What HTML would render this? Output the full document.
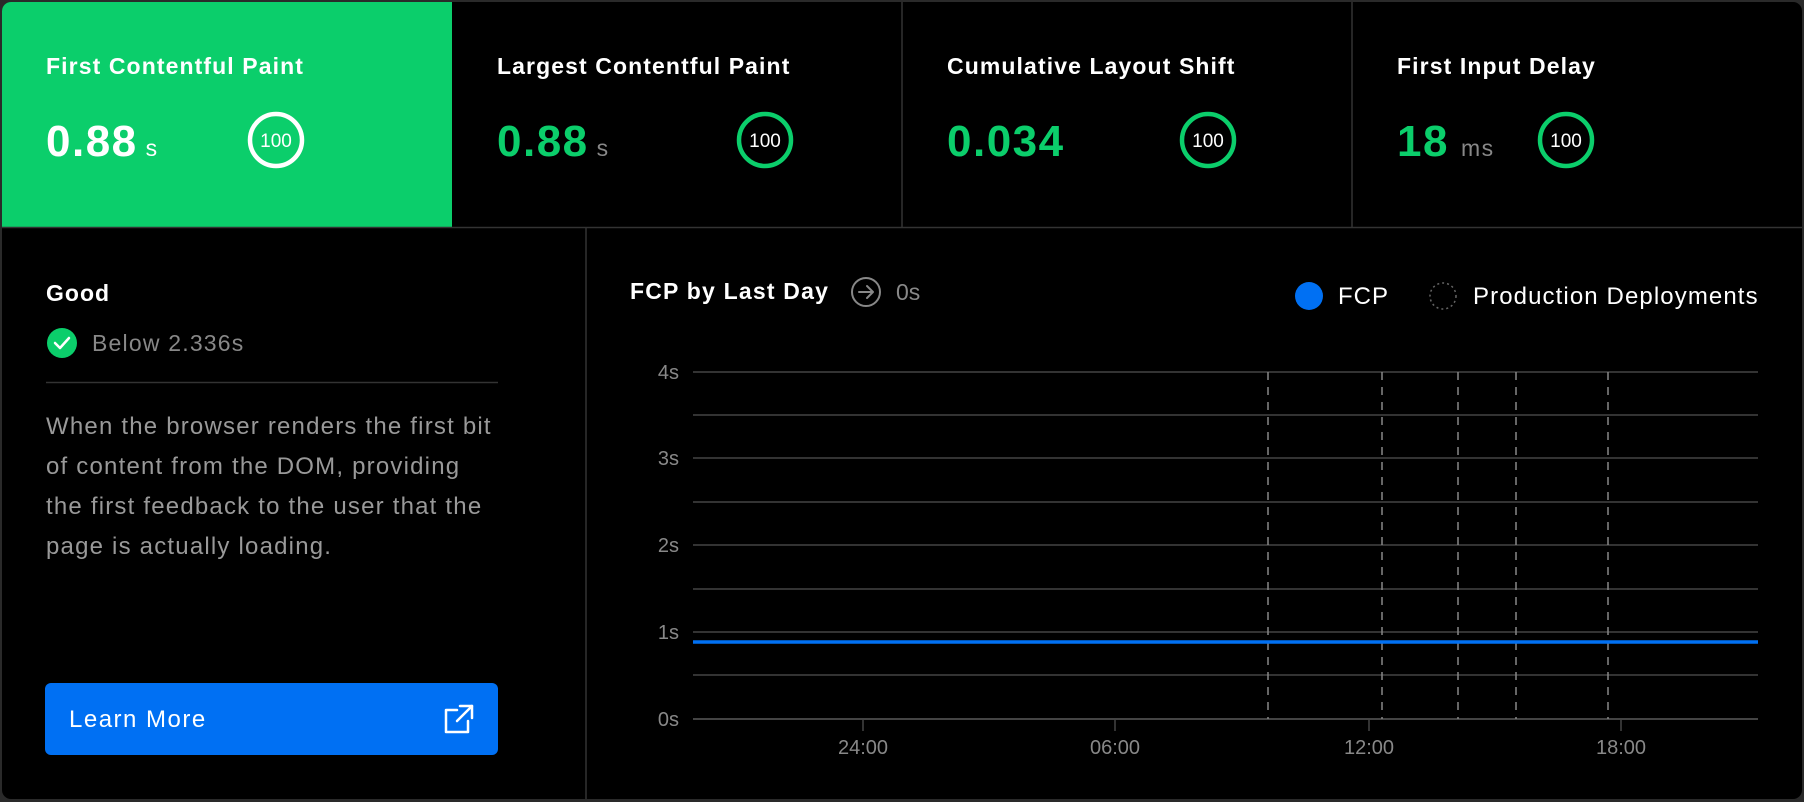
<!DOCTYPE html>
<html><head><meta charset="utf-8"><style>
html,body{margin:0;padding:0;background:#000;}
svg{display:block;font-family:"Liberation Sans",sans-serif;}
</style></head><body>
<svg width="1804" height="802" viewBox="0 0 1804 802" xmlns="http://www.w3.org/2000/svg">
<rect x="0" y="0" width="1804" height="802" fill="#2a2a2a"/>
<rect x="2" y="2" width="1800" height="797" rx="9" fill="#000"/>
<path d="M2 227 V11 A9 9 0 0 1 11 2 H452 V227 Z" fill="#0bce6b"/>
<g stroke="#333" stroke-width="1.5">
<line x1="902" y1="2" x2="902" y2="227"/>
<line x1="1352" y1="2" x2="1352" y2="227"/>
<line x1="2" y1="227.5" x2="1802" y2="227.5"/>
<line x1="586" y1="227" x2="586" y2="799"/>
</g>
<g font-size="23" font-weight="bold" fill="#fff" letter-spacing="1.1">
<text x="46" y="74">First Contentful Paint</text>
<text x="497" y="74">Largest Contentful Paint</text>
<text x="947" y="74">Cumulative Layout Shift</text>
<text x="1397" y="74">First Input Delay</text>
</g>
<g font-size="44" font-weight="bold" letter-spacing="1.5">
<text x="46" y="156" fill="#fff">0.88<tspan font-size="23" font-weight="normal" dx="8">s</tspan></text>
<text x="497" y="156" fill="#0bce6b">0.88<tspan font-size="23" font-weight="normal" fill="#888" dx="8">s</tspan></text>
<text x="947" y="156" fill="#0bce6b">0.034</text>
<text x="1397" y="156" fill="#0bce6b">18<tspan font-size="23" font-weight="normal" fill="#888" dx="12">ms</tspan></text>
</g>
<g fill="none" stroke-width="4.5">
<circle cx="276" cy="140" r="26" stroke="#fff"/>
<circle cx="765" cy="140" r="26" stroke="#0bce6b"/>
<circle cx="1208" cy="140" r="26" stroke="#0bce6b"/>
<circle cx="1566" cy="140" r="26" stroke="#0bce6b"/>
</g>
<g font-size="19" fill="#fff" text-anchor="middle">
<text x="276" y="147">100</text><text x="765" y="147">100</text>
<text x="1208" y="147">100</text><text x="1566" y="147">100</text>
</g>
<!-- left panel -->
<text x="46" y="301" font-size="23" font-weight="bold" fill="#fff" letter-spacing="1">Good</text>
<circle cx="62" cy="343" r="15" fill="#0bce6b"/>
<path d="M55 343 L60 348 L69 338" fill="none" stroke="#fff" stroke-width="2.5" stroke-linecap="round" stroke-linejoin="round"/>
<text x="92" y="351" font-size="23" fill="#888" letter-spacing="1.2">Below 2.336s</text>
<line x1="46" y1="382.5" x2="498" y2="382.5" stroke="#333" stroke-width="1.5"/>
<g font-size="24" fill="#999" letter-spacing="1.2">
<text x="46" y="434">When the browser renders the first bit</text>
<text x="46" y="474">of content from the DOM, providing</text>
<text x="46" y="514">the first feedback to the user that the</text>
<text x="46" y="554">page is actually loading.</text>
</g>
<rect x="45" y="683" width="453" height="72" rx="6" fill="#0070f3"/>
<text x="69" y="727" font-size="24" fill="#fff" letter-spacing="1.5">Learn More</text>
<g fill="none" stroke="#fff" stroke-width="2.5" stroke-linecap="round" stroke-linejoin="round">
<path d="M457 710 H446 V732 H468 V721"/><path d="M460 706 H472 V718"/><path d="M472 706 L457 721"/>
</g>
<!-- chart header -->
<text x="630" y="299" font-size="23" font-weight="bold" fill="#fff" letter-spacing="1.2">FCP by Last Day</text>
<circle cx="866" cy="292" r="14" fill="none" stroke="#888" stroke-width="2"/>
<path d="M859 292 H873 M867 286 L873 292 L867 298" fill="none" stroke="#888" stroke-width="2" stroke-linecap="round" stroke-linejoin="round"/>
<text x="896" y="300" font-size="23" fill="#888">0s</text>
<circle cx="1309" cy="296" r="14" fill="#0070f3"/>
<text x="1338" y="304" font-size="24" fill="#fff" letter-spacing="1">FCP</text>
<circle cx="1443" cy="296" r="13" fill="none" stroke="#666" stroke-width="1.5" stroke-dasharray="2 3"/>
<text x="1473" y="304" font-size="24" fill="#fff" letter-spacing="1.1">Production Deployments</text>
<!-- grid -->
<g stroke="#333" stroke-width="2">
<line x1="693" y1="372" x2="1758" y2="372"/><line x1="693" y1="415" x2="1758" y2="415"/>
<line x1="693" y1="458" x2="1758" y2="458"/><line x1="693" y1="502" x2="1758" y2="502"/>
<line x1="693" y1="545" x2="1758" y2="545"/><line x1="693" y1="589" x2="1758" y2="589"/>
<line x1="693" y1="632" x2="1758" y2="632"/><line x1="693" y1="675" x2="1758" y2="675"/>
</g>
<line x1="693" y1="719" x2="1758" y2="719" stroke="#444" stroke-width="2"/>
<g stroke="#444" stroke-width="1.5">
<line x1="863" y1="719" x2="863" y2="731"/><line x1="1115" y1="719" x2="1115" y2="731"/>
<line x1="1369" y1="719" x2="1369" y2="731"/><line x1="1621" y1="719" x2="1621" y2="731"/>
</g>
<g stroke="#888" stroke-width="1.5" stroke-dasharray="8 7">
<line x1="1268" y1="372" x2="1268" y2="719"/><line x1="1382" y1="372" x2="1382" y2="719"/>
<line x1="1458" y1="372" x2="1458" y2="719"/><line x1="1516" y1="372" x2="1516" y2="719"/>
<line x1="1608" y1="372" x2="1608" y2="719"/>
</g>
<line x1="693" y1="642" x2="1758" y2="642" stroke="#0070f3" stroke-width="3.5"/>
<g font-size="20" fill="#888" text-anchor="end">
<text x="679" y="379">4s</text><text x="679" y="465">3s</text><text x="679" y="552">2s</text>
<text x="679" y="639">1s</text><text x="679" y="726">0s</text>
</g>
<g font-size="20" fill="#888" text-anchor="middle">
<text x="863" y="754">24:00</text><text x="1115" y="754">06:00</text>
<text x="1369" y="754">12:00</text><text x="1621" y="754">18:00</text>
</g>
</svg>
</body></html>
